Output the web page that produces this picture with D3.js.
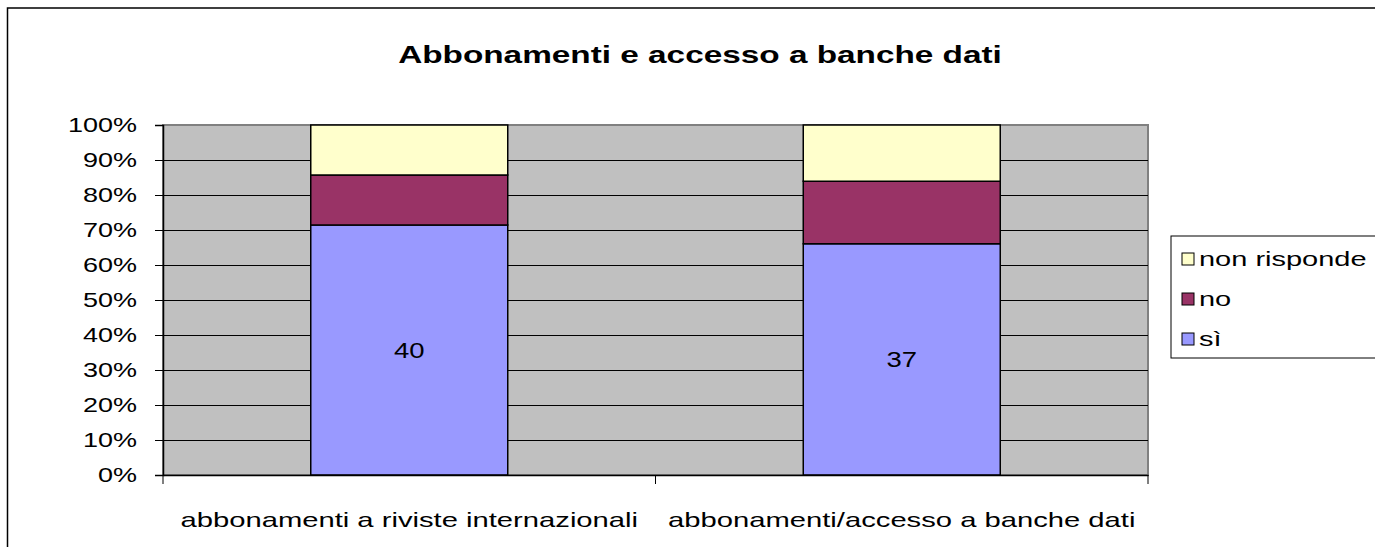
<!DOCTYPE html>
<html>
<head>
<meta charset="utf-8">
<script src="https://cdn.jsdelivr.net/npm/d3@7"></script>
<style>
  body { margin: 0; background: #fff; }
  svg { display: block; font-family: "Liberation Sans", Arial, sans-serif; }
  /* the original chart text is stretched sideways */
  .wide { transform-box: fill-box; }
</style>
</head>
<body>
<div id="chart"></div>
<script>
// data (counts, shown as 100% stacked)
var categorie = ["abbonamenti a riviste internazionali", "abbonamenti/accesso a banche dati"];
var si = [40, 37];
var no = [8, 10];
var nonRisponde = [8, 9];
var serie = ["sì", "no", "non risponde"];
var colori = ["#9999FF", "#993366", "#FFFFCC"];
var yTicks = [0, 0.1, 0.2, 0.3, 0.4, 0.5, 0.6, 0.7, 0.8, 0.9, 1];

var W = 1375, H = 547;
var margin = { top: 125, left: 163, right: 227, bottom: 72 };
var width = W - margin.left - margin.right,
    height = H - margin.top - margin.bottom;

function stretch(sel, k, origin) {
    sel.classed("wide", true)
        .style("transform-origin", origin || "center")
        .style("transform", "scaleX(" + k + ")");
}

var rows = categorie.map(function (c, i) {
    var tot = si[i] + no[i] + nonRisponde[i];
    return { cat: c, "sì": si[i] / tot, "no": no[i] / tot, "non risponde": nonRisponde[i] / tot, n: si[i] };
});
var stacked = d3.stack().keys(serie)(rows);

var svg = d3.select("#chart").append("svg")
    .attr("width", W)
    .attr("height", H);

// outer chart frame
svg.append("rect")
    .attr("x", 7.5).attr("y", 8)
    .attr("width", W + 10).attr("height", H + 10)
    .attr("fill", "#fff")
    .attr("stroke", "#000").attr("stroke-width", 1.5);

svg.append("text")
    .attr("x", 700).attr("y", 63)
    .attr("text-anchor", "middle")
    .attr("font-size", 23).attr("font-weight", "bold")
    .text("Abbonamenti e accesso a banche dati")
    .call(stretch, 1.45);

var g = svg.append("g")
    .attr("transform", "translate(" + margin.left + "," + margin.top + ")");

var x = d3.scaleBand().domain(categorie).range([0, width]).paddingInner(0).paddingOuter(0);
var y = d3.scaleLinear().domain([0, 1]).range([height, 0]);

g.append("rect")
    .attr("width", width).attr("height", height)
    .attr("fill", "#C0C0C0")
    .attr("stroke", "#808080").attr("stroke-width", 2);

g.selectAll(".grid")
    .data(yTicks.slice(1, -1))
    .enter().append("line")
    .attr("class", "grid")
    .attr("x1", 0).attr("x2", width)
    .attr("y1", function (d) { return Math.round(y(d)) + 0.5; })
    .attr("y2", function (d) { return Math.round(y(d)) + 0.5; })
    .attr("stroke", "#000").attr("stroke-width", 1);

var barW = x.bandwidth() * 0.4;

g.selectAll(".serie")
    .data(stacked)
    .enter().append("g")
    .attr("class", "serie")
    .attr("fill", function (d, i) { return colori[i]; })
    .selectAll("rect")
    .data(function (d) { return d; })
    .enter().append("rect")
    .attr("x", function (d) { return x(d.data.cat) + (x.bandwidth() - barW) / 2; })
    .attr("y", function (d) { return y(d[1]); })
    .attr("width", barW)
    .attr("height", function (d) { return y(d[0]) - y(d[1]); })
    .attr("stroke", "#000").attr("stroke-width", 1.5);

// labels on the "sì" segment
g.selectAll(".lab")
    .data(stacked[0])
    .enter().append("text")
    .attr("class", "lab")
    .attr("x", function (d) { return x(d.data.cat) + x.bandwidth() / 2; })
    .attr("y", function (d) { return (y(d[0]) + y(d[1])) / 2 + 8; })
    .attr("text-anchor", "middle")
    .attr("font-size", 22)
    .text(function (d) { return d.data.n; })
    .call(stretch, 1.25);

var yAxis = d3.axisLeft(y).tickValues(yTicks).tickFormat(d3.format(".0%")).tickSize(8).tickPadding(18);
var ya = g.append("g").call(yAxis);
ya.select(".domain").attr("stroke", "#000").attr("stroke-width", 1.5);
ya.selectAll("text").attr("font-size", 20).attr("fill", "#000")
    .attr("font-family", "Liberation Sans, Arial, sans-serif")
    .call(stretch, 1.35, "right center");

var xAxis = d3.axisBottom(x).tickSize(0).tickPadding(38);
var xa = g.append("g").attr("transform", "translate(0," + height + ")").call(xAxis);
xa.select(".domain").attr("stroke", "#000").attr("stroke-width", 1.5);
xa.selectAll("text").attr("font-size", 20).attr("fill", "#000")
    .attr("font-family", "Liberation Sans, Arial, sans-serif")
    .call(stretch, 1.46);
// category separator ticks
xa.selectAll(".sep")
    .data([0, width / 2, width])
    .enter().append("line")
    .attr("x1", function (d) { return d; }).attr("x2", function (d) { return d; })
    .attr("y1", 0).attr("y2", 9)
    .attr("stroke", "#000");

// legend
var leg = svg.append("g").attr("transform", "translate(1171,236)");
leg.append("rect")
    .attr("width", 220).attr("height", 122)
    .attr("fill", "#fff").attr("stroke", "#000");
var legItems = serie.slice().reverse();
leg.selectAll(".item")
    .data(legItems)
    .enter().append("g")
    .attr("class", "item")
    .attr("transform", function (d, i) { return "translate(11," + (23 + i * 40) + ")"; })
    .each(function (d) {
        var it = d3.select(this);
        it.append("rect")
            .attr("x", 0).attr("y", -6)
            .attr("width", 12).attr("height", 12)
            .attr("fill", colori[serie.indexOf(d)])
            .attr("stroke", "#000");
        it.append("text")
            .attr("x", 17).attr("y", 7)
            .attr("font-size", 20)
            .text(d)
            .call(stretch, 1.45, "left center");
    });
</script>
</body>
</html>
